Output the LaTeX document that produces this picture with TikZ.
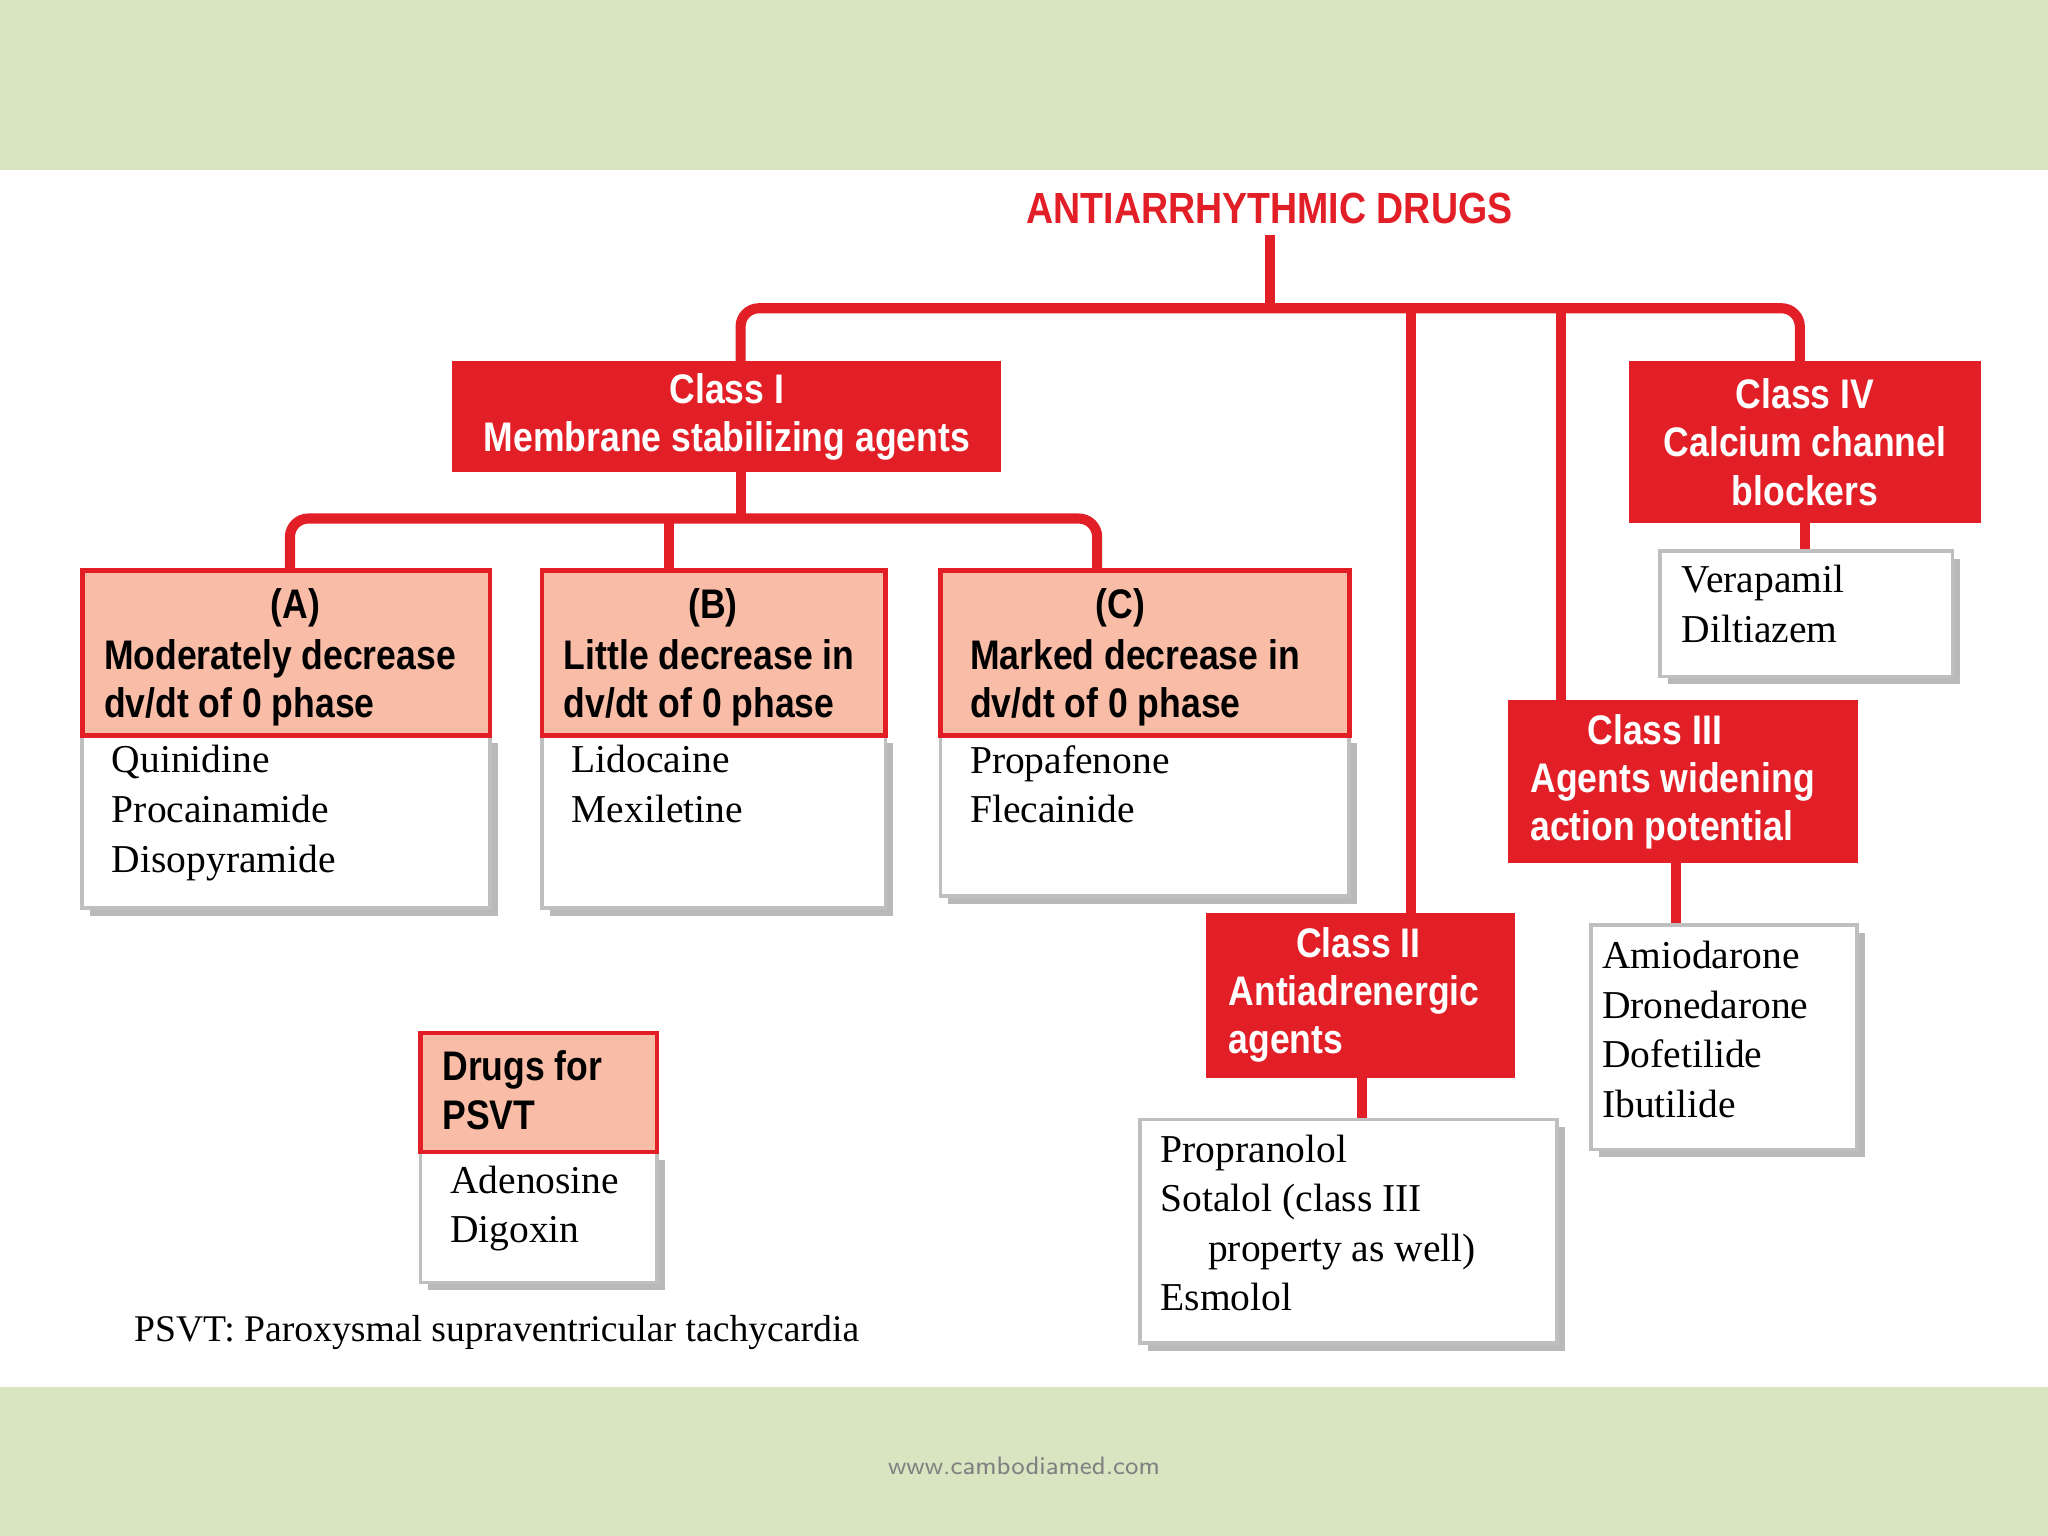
\documentclass[tikz,border=0pt]{standalone}
\usepackage{fontspec}
\setmainfont{Liberation Serif}
\newfontfamily\hd{Liberation Sans}[FakeStretch=0.86]
\usetikzlibrary{fit}
\definecolor{bandg}{HTML}{D9E4C0}
\definecolor{rd}{HTML}{E21F26}
\definecolor{salm}{HTML}{F9BCA6}
\tikzset{x=0.01cm,y=-0.01cm,
 red box/.style={fill=rd,draw=rd,inner sep=0pt},
 sal box/.style={fill=salm,draw=rd,line width=1pt,inner sep=0pt},
 body box/.style={fill=white,draw=gray!50,line width=0.8pt,inner sep=0pt},
 shadow/.style={fill=gray!55,draw=none},
 wt/.style={font=\hd\bfseries\fontsize{9pt}{10.5pt}\selectfont,text=white,inner sep=0pt},
 bt/.style={font=\hd\bfseries\fontsize{9pt}{10.5pt}\selectfont,text=black,inner sep=0pt},
 dt/.style={font=\fontsize{8.6pt}{10.8pt}\selectfont,align=left,anchor=north west,inner sep=0pt},
 link/.style={draw=rd,line width=2.2pt,rounded corners=4pt}}
\newcommand{\shbox}[5]{\fill[shadow] (#2+6,#3+6) rectangle (#4+6,#5+6);
 \node[fit={(#2,#3)(#4,#5)},#1] }
\begin{document}
\begin{tikzpicture}
\useasboundingbox (0,0) rectangle (1568,1176);
\fill[bandg] (0,0) rectangle (1568,130);
\fill[bandg] (0,1062) rectangle (1568,1176);
\fill[white] (0,130) rectangle (1568,1062);

\node[font=\hd\bfseries\fontsize{9.5pt}{11pt}\selectfont,text=rd,inner sep=2pt] (title) at (972,160) {ANTIARRHYTHMIC DRUGS};

% Class I
\node[fit={(347,277)(766,361)},red box] (c1) {};
\node[wt,align=center] at (c1.center) {Class I\\Membrane stabilizing agents};
% Class IV
\node[fit={(1248,277)(1516,400)},red box] (c4) {};
\node[wt,align=center] at (c4.center) {Class IV\\Calcium channel\\blockers};
% Class III
\node[fit={(1155,537)(1422,660)},red box] (c3) {};
\node[wt] at (1267,559) {Class III};
\node[wt,align=left,anchor=north west] at (1171,583) {Agents widening\\action potential};
% Class II
\node[fit={(924,700)(1159,825)},red box] (c2) {};
\node[wt] at (1040,722) {Class II};
\node[wt,align=left,anchor=north west] at (940,746) {Antiadrenergic\\agents};

% tree lines
\coordinate (j) at (972,236);
\draw[link] (title.south) -- (j);
\draw[link] (c1.north -| 567,0) |- (j) -| (c4.north -| 1378,0);
\draw[link] (1080,236) -- (1080,700);
\draw[link] (1195,236) -- (1195,537);

% A B C
\shbox{body box}{63}{563}{375}{695} (ba) {};
\node[fit={(63,437)(375,563)},sal box] (ha) {};
\shbox{body box}{415}{563}{678}{695} (bb) {};
\node[fit={(415,437)(678,563)},sal box] (hb) {};
\shbox{body box}{720}{563}{1033}{686} (bc) {};
\node[fit={(720,437)(1033,563)},sal box] (hc) {};
\node[bt] at (226,465) {(A)};
\node[bt,align=left,anchor=north west] at (79,489) {Moderately decrease\\dv/dt of 0 phase};
\node[bt] at (546,465) {(B)};
\node[bt,align=left,anchor=north west] at (431,489) {Little decrease in\\dv/dt of 0 phase};
\node[bt] at (858,465) {(C)};
\node[bt,align=left,anchor=north west] at (742,489) {Marked decrease in\\dv/dt of 0 phase};
\node[dt] at (85,570) {Quinidine\\Procainamide\\Disopyramide};
\node[dt] at (437,570) {Lidocaine\\Mexiletine};
\node[dt] at (742,570) {Propafenone\\Flecainide};
\coordinate (k) at (567,397);
\draw[link] (c1.south -| 567,0) -- (k);
\draw[link] (ha.north -| 222,0) |- (k) -| (hc.north -| 840,0);
\draw[link] (512,397) -- (hb.north -| 512,0);

% drug boxes of classes
\shbox{body box}{1271}{422}{1495}{518} (b4) {};
\node[dt] at (1287,432) {Verapamil\\Diltiazem};
\draw[link] (c4.south -| 1382,0) -- (b4.north -| 1382,0);
\shbox{body box}{1218}{708}{1422}{880} (b3) {};
\node[dt] at (1226,720) {Amiodarone\\Dronedarone\\Dofetilide\\Ibutilide};
\draw[link] (c3.south -| 1283,0) -- (b3.north -| 1283,0);
\shbox{body box}{873}{857}{1192}{1028} (b2) {};
\node[dt] at (888,868) {Propranolol\\Sotalol (class III\\\hspace*{1.2em}property as well)\\Esmolol};
\draw[link] (c2.south -| 1043,0) -- (b2.north -| 1043,0);

% PSVT
\shbox{body box}{322}{882}{503}{982} (bp) {};
\node[fit={(322,791)(503,882)},sal box] (hp) {};
\node[bt,align=left,anchor=north west] at (338,804) {Drugs for\\PSVT};
\node[dt] at (344,892) {Adenosine\\Digoxin};

\node[font=\fontsize{8.2pt}{9pt}\selectfont,anchor=west,inner sep=0pt] (fn) at (102,1020) {PSVT: Paroxysmal supraventricular tachycardia};
\node[font=\fontfamily{}\sffamily\fontsize{5.5pt}{6pt}\selectfont,text=gray,inner sep=0pt] (www) at (784,1122) {www.cambodiamed.com};
\end{tikzpicture}
\end{document}
